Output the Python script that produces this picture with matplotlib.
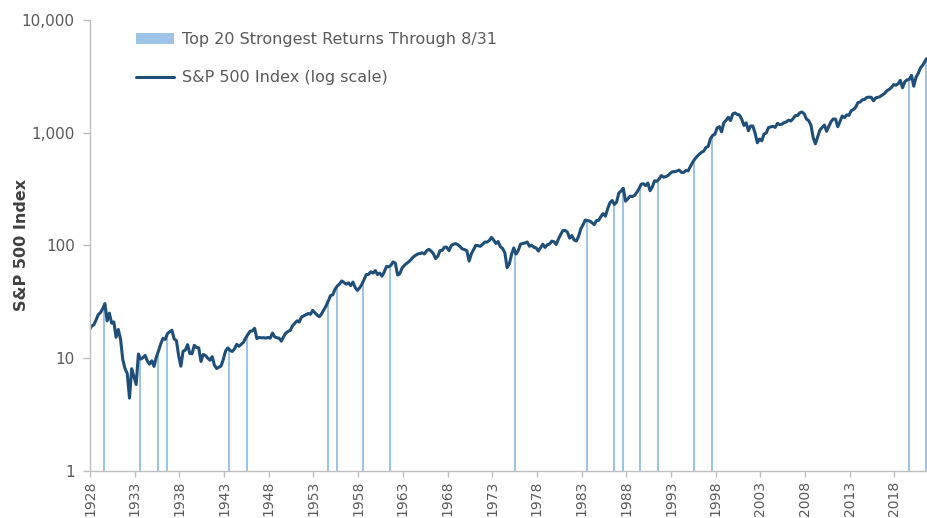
#!/usr/bin/env python
# -*- coding: utf-8 -*-

"""
S&P 500 index (log scale) with the top 20 strongest Jan-Aug returns marked.
"""

import matplotlib
matplotlib.use('Agg')
import matplotlib.pyplot as plt
import numpy as np
from matplotlib.ticker import FixedLocator, NullLocator

plt.rcParams['font.family'] = ['DejaVu Sans']

# S&P 500 quarter-end closes: Dec 1927, then Mar / Jun / Sep / Dec of each year, up to Jun 2021
sp_quarter = [
    17.66,
    19.28, 19.71, 21.73, 24.35,      # 1928
    25.37, 27.50, 30.50, 21.45,      # 1929
    25.14, 20.46, 21.00, 15.34,      # 1930
    18.01, 14.83, 9.71, 8.12,        # 1931
    7.31, 4.43, 8.08, 6.89,          # 1932
    5.85, 10.91, 9.83, 10.10,        # 1933
    10.60, 9.47, 8.86, 9.50,         # 1934
    8.47, 10.23, 11.62, 13.43,       # 1935
    15.03, 14.69, 16.56, 17.18,      # 1936
    17.71, 14.81, 14.34, 10.55,      # 1937
    8.50, 11.56, 11.80, 13.21,       # 1938
    11.02, 10.97, 13.02, 12.49,      # 1939
    12.35, 9.37, 10.80, 10.58,       # 1940
    10.03, 9.61, 10.34, 8.69,        # 1941
    8.11, 8.33, 8.54, 9.77,          # 1942
    11.58, 12.35, 11.75, 11.48,      # 1943
    12.10, 13.30, 12.77, 13.28,      # 1944
    13.85, 15.09, 16.29, 17.36,      # 1945
    17.48, 18.43, 14.96, 15.30,      # 1946
    15.17, 15.21, 15.10, 15.30,      # 1947
    15.08, 16.74, 15.49, 15.20,      # 1948
    15.06, 14.16, 15.58, 16.76,      # 1949
    17.29, 17.69, 19.45, 20.41,      # 1950
    21.48, 20.96, 23.26, 23.77,      # 1951
    24.37, 24.96, 24.54, 26.57,      # 1952
    25.29, 24.14, 23.35, 24.81,      # 1953
    26.94, 29.21, 32.31, 35.98,      # 1954
    36.58, 41.03, 43.67, 45.48,      # 1955
    48.48, 46.97, 45.35, 46.67,      # 1956
    44.11, 47.37, 42.42, 39.99,      # 1957
    42.10, 45.24, 50.06, 55.21,      # 1958
    55.44, 58.47, 56.88, 59.89,      # 1959
    55.34, 56.92, 53.52, 58.11,      # 1960
    65.06, 64.64, 66.73, 71.55,      # 1961
    69.55, 54.75, 56.27, 63.10,      # 1962
    66.57, 69.37, 71.70, 75.02,      # 1963
    78.98, 81.69, 84.18, 84.75,      # 1964
    86.16, 84.12, 89.96, 92.43,      # 1965
    89.23, 84.74, 76.56, 80.33,      # 1966
    90.20, 90.64, 96.71, 96.47,      # 1967
    90.20, 99.58, 102.67, 103.86,    # 1968
    101.51, 97.71, 93.12, 92.06,     # 1969
    89.63, 72.72, 84.30, 92.15,      # 1970
    100.31, 99.70, 98.34, 102.09,    # 1971
    107.20, 107.14, 110.55, 118.05,  # 1972
    111.52, 104.26, 108.43, 97.55,   # 1973
    93.98, 86.00, 63.54, 68.56,      # 1974
    83.36, 95.19, 83.87, 90.19,      # 1975
    102.77, 104.28, 105.24, 107.46,  # 1976
    98.42, 100.48, 96.53, 95.10,     # 1977
    89.21, 95.53, 102.54, 96.11,     # 1978
    101.59, 102.91, 109.32, 107.94,  # 1979
    102.09, 114.24, 125.46, 135.76,  # 1980
    136.00, 131.21, 116.18, 122.55,  # 1981
    111.96, 109.61, 120.42, 140.64,  # 1982
    152.96, 168.11, 166.07, 164.93,  # 1983
    159.18, 153.18, 166.10, 167.24,  # 1984
    180.66, 191.85, 182.08, 211.28,  # 1985
    238.90, 250.84, 231.32, 242.17,  # 1986
    291.70, 304.00, 321.83, 247.08,  # 1987
    258.89, 273.50, 271.91, 277.72,  # 1988
    294.87, 317.98, 349.15, 353.40,  # 1989
    339.94, 358.02, 306.05, 330.22,  # 1990
    375.22, 371.16, 387.86, 417.09,  # 1991
    403.69, 408.14, 417.80, 435.71,  # 1992
    451.67, 450.53, 458.93, 466.45,  # 1993
    445.77, 444.27, 462.69, 459.27,  # 1994
    500.71, 544.75, 584.41, 615.93,  # 1995
    645.50, 670.63, 687.33, 740.74,  # 1996
    757.12, 885.14, 947.28, 970.43,  # 1997
    1101.75, 1133.84, 1017.01, 1229.23,  # 1998
    1286.37, 1372.71, 1282.71, 1469.25,  # 1999
    1498.58, 1454.60, 1436.51, 1320.28,  # 2000
    1160.33, 1224.42, 1040.94, 1148.08,  # 2001
    1147.39, 989.82, 815.28, 879.82,     # 2002
    848.18, 974.50, 995.97, 1111.92,     # 2003
    1126.21, 1140.84, 1114.58, 1211.92,  # 2004
    1180.59, 1191.33, 1228.81, 1248.29,  # 2005
    1294.83, 1270.20, 1335.85, 1418.30,  # 2006
    1420.86, 1503.35, 1526.75, 1468.36,  # 2007
    1322.70, 1280.00, 1166.36, 903.25,   # 2008
    797.87, 919.32, 1057.08, 1115.10,    # 2009
    1169.43, 1030.71, 1141.20, 1257.64,  # 2010
    1325.83, 1320.64, 1131.42, 1257.60,  # 2011
    1408.47, 1362.16, 1440.67, 1426.19,  # 2012
    1569.19, 1606.28, 1681.55, 1848.36,  # 2013
    1872.34, 1960.23, 1972.29, 2058.90,  # 2014
    2067.89, 2063.11, 1920.03, 2043.94,  # 2015
    2059.74, 2098.86, 2168.27, 2238.83,  # 2016
    2362.72, 2423.41, 2519.36, 2673.61,  # 2017
    2640.87, 2718.37, 2913.98, 2506.85,  # 2018
    2834.40, 2941.76, 2976.74, 3230.78,  # 2019
    2584.59, 3100.29, 3363.00, 3756.07,  # 2020
    3972.89, 4297.50,                    # 2021
]
# last point: Aug 2021
sp_last = 4522.68

# years with the 20 strongest returns through 8/31
top_years = [1929, 1933, 1935, 1936, 1943, 1945, 1954, 1955, 1958, 1961,
             1975, 1983, 1986, 1987, 1989, 1991, 1995, 1997, 2019, 2021]

x_ticks = list(range(1928, 2019, 5))
y_ticks = [1, 10, 100, 1000, 10000]
y_labels = ['1', '10', '100', '1,000', '10,000']

# time axis: Dec 1927 point sits one month before Jan 1928
dates = 1928 - 1 / 12 + 0.25 * np.arange(len(sp_quarter))
dates = np.append(dates, 2021 + 7 / 12)
values = np.append(np.array(sp_quarter), sp_last)

# bars at the end of August of each top year, reaching up to the index line
bar_x = np.array(top_years) + 7 / 12
bar_top = np.interp(bar_x, dates, values)

fig = plt.figure(figsize=(9.28, 5.18), dpi=100)
ax = fig.add_axes([90 / 928, 1 - 471 / 518, 1 - 91 / 928, (471 - 20) / 518])

grey = '#595959'
axis_grey = '#BFBFBF'

bars = ax.bar(bar_x, bar_top - 1, bottom=1, width=0.22, color='#9DC3E6',
              linewidth=0, zorder=1)
line, = ax.plot(dates, values, color='#1F4E79', linewidth=2.2,
                solid_capstyle='round', solid_joinstyle='round', zorder=2)

ax.set_yscale('log')
ax.set_ylim(1, 10000)
ax.set_xlim(1928, 2021.65)
ax.yaxis.set_major_locator(FixedLocator(y_ticks))
ax.yaxis.set_minor_locator(NullLocator())
ax.set_yticklabels(y_labels)
ax.set_xticks(x_ticks)
ax.set_xticklabels([str(y) for y in x_ticks], rotation=90)

for s in ['top', 'right']:
    ax.spines[s].set_visible(False)
for s in ['left', 'bottom']:
    ax.spines[s].set_color(axis_grey)
    ax.spines[s].set_linewidth(1.0)
ax.tick_params(axis='both', colors=axis_grey, labelcolor=grey,
               width=1.0, direction='out')
ax.tick_params(axis='y', labelsize=11, length=5, pad=6)
ax.tick_params(axis='x', labelsize=10, length=4, pad=3)

# y axis title
fig.text(21.5 / 928, 1 - 245 / 518, 'S&P 500 Index', rotation=90, ha='center',
         va='center', fontsize=11.5, fontweight='bold', color='#404040')

ax.legend([bars, line],
          ['Top 20 Strongest Returns Through 8/31', 'S&P 500 Index (log scale)'],
          loc='upper left', bbox_to_anchor=(136 / 928, 1 - 32 / 518),
          bbox_transform=fig.transFigure, frameon=False, fontsize=11.5,
          labelcolor=grey, handlelength=2.4, handletextpad=0.45,
          labelspacing=1.45, borderaxespad=0, borderpad=0)

plt.savefig('out.png', dpi=100)
